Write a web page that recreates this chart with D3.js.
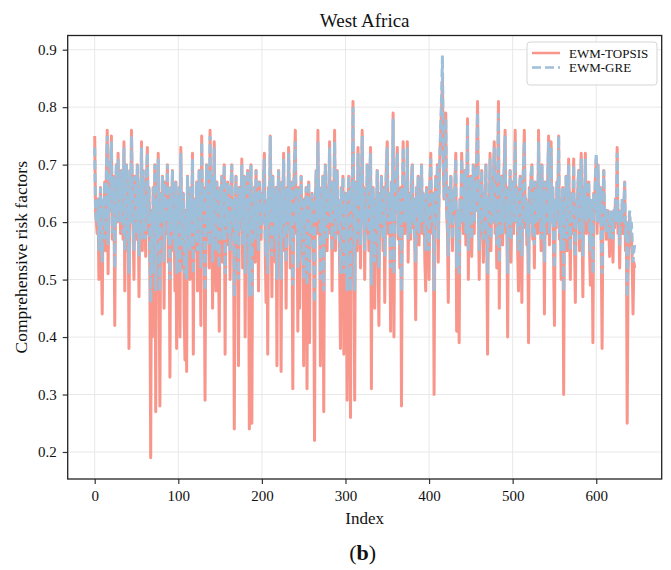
<!DOCTYPE html>
<html>
<head>
<meta charset="utf-8">
<script src="https://cdn.jsdelivr.net/npm/d3@7"></script>
<style>
  body { margin: 0; background: #fff; }
  text { font-family: "Liberation Serif", "Times New Roman", serif; fill: #111; }
</style>
</head>
<body>
<div id="chart"></div>
<script>
// series values (index 0..646)
var topsis = [
  0.75,0.62,0.60,0.58,0.64,0.50,0.61,0.66,0.55,0.44, 0.63,0.58,0.67,0.55,0.69,0.76,0.51,0.66,0.62,0.70,
  0.75,0.57,0.68,0.64,0.42,0.66,0.70,0.60,0.72,0.63, 0.67,0.58,0.69,0.62,0.57,0.74,0.48,0.66,0.70,0.55,
  0.64,0.38,0.69,0.60,0.76,0.66,0.58,0.50,0.68,0.62, 0.57,0.70,0.63,0.47,0.66,0.61,0.74,0.55,0.69,0.60,
  0.64,0.54,0.68,0.73,0.58,0.66,0.50,0.19,0.62,0.40, 0.66,0.59,0.70,0.27,0.63,0.56,0.72,0.52,0.28,0.65,
  0.60,0.68,0.63,0.45,0.67,0.58,0.62,0.70,0.53,0.64, 0.33,0.66,0.60,0.69,0.55,0.62,0.48,0.67,0.38,0.63,
  0.58,0.66,0.40,0.73,0.60,0.52,0.65,0.44,0.36,0.62, 0.34,0.68,0.57,0.63,0.50,0.66,0.59,0.72,0.37,0.64,
  0.60,0.55,0.67,0.48,0.62,0.69,0.58,0.42,0.75,0.61, 0.66,0.54,0.29,0.63,0.70,0.57,0.65,0.52,0.76,0.60,
  0.68,0.45,0.64,0.74,0.58,0.48,0.67,0.62,0.55,0.41, 0.66,0.60,0.68,0.53,0.63,0.70,0.37,0.65,0.59,0.67,
  0.56,0.62,0.50,0.66,0.70,0.58,0.64,0.24,0.61,0.68, 0.55,0.63,0.35,0.66,0.59,0.62,0.71,0.52,0.64,0.68,
  0.40,0.63,0.57,0.69,0.61,0.24,0.65,0.70,0.25,0.62, 0.58,0.66,0.53,0.69,0.60,0.64,0.48,0.67,0.62,0.57,
  0.65,0.60,0.68,0.72,0.55,0.46,0.63,0.37,0.66,0.60, 0.75,0.62,0.47,0.68,0.58,0.64,0.53,0.66,0.35,0.62,
  0.69,0.57,0.64,0.34,0.67,0.60,0.72,0.55,0.63,0.45, 0.66,0.59,0.73,0.62,0.52,0.67,0.60,0.31,0.65,0.70,
  0.76,0.58,0.63,0.41,0.66,0.45,0.60,0.68,0.56,0.62, 0.35,0.64,0.58,0.66,0.31,0.61,0.67,0.39,0.63,0.57,
  0.65,0.60,0.52,0.22,0.64,0.69,0.58,0.76,0.62,0.66, 0.35,0.63,0.57,0.68,0.27,0.64,0.70,0.59,0.55,0.66,
  0.62,0.74,0.58,0.65,0.48,0.67,0.61,0.76,0.55,0.64, 0.69,0.58,0.63,0.52,0.38,0.66,0.60,0.68,0.37,0.62,
  0.65,0.57,0.29,0.63,0.68,0.60,0.26,0.66,0.62,0.81, 0.58,0.29,0.67,0.61,0.55,0.73,0.63,0.68,0.52,0.65,
  0.76,0.60,0.66,0.50,0.62,0.58,0.70,0.64,0.55,0.67, 0.73,0.31,0.62,0.66,0.57,0.45,0.64,0.60,0.69,0.53,
  0.42,0.65,0.59,0.68,0.62,0.55,0.66,0.46,0.63,0.70, 0.74,0.58,0.65,0.61,0.41,0.67,0.60,0.79,0.40,0.64,
  0.62,0.68,0.73,0.57,0.64,0.52,0.66,0.28,0.61,0.74, 0.63,0.58,0.67,0.60,0.74,0.53,0.65,0.62,0.57,0.68,
  0.70,0.59,0.64,0.55,0.43,0.66,0.61,0.68,0.56,0.63, 0.60,0.70,0.58,0.65,0.62,0.53,0.48,0.66,0.60,0.64,
  0.50,0.67,0.72,0.61,0.58,0.65,0.30,0.63,0.68,0.60, 0.70,0.53,0.66,0.72,0.76,0.80,0.85,0.70,0.64,0.68,
  0.79,0.62,0.58,0.46,0.66,0.60,0.68,0.63,0.55,0.65, 0.61,0.67,0.72,0.41,0.62,0.58,0.39,0.64,0.60,0.72,
  0.66,0.58,0.62,0.69,0.56,0.64,0.78,0.50,0.66,0.61, 0.68,0.54,0.63,0.70,0.58,0.66,0.62,0.72,0.81,0.64,
  0.50,0.67,0.60,0.69,0.58,0.53,0.65,0.62,0.70,0.57, 0.37,0.64,0.61,0.72,0.55,0.66,0.60,0.68,0.74,0.58,
  0.64,0.52,0.67,0.81,0.45,0.63,0.60,0.68,0.56,0.65, 0.70,0.76,0.58,0.63,0.40,0.66,0.60,0.69,0.53,0.62,
  0.67,0.58,0.64,0.76,0.60,0.66,0.55,0.48,0.63,0.68, 0.61,0.46,0.65,0.70,0.76,0.59,0.64,0.56,0.62,0.39,
  0.66,0.60,0.68,0.70,0.57,0.63,0.52,0.67,0.61,0.65, 0.58,0.76,0.62,0.66,0.55,0.70,0.60,0.64,0.44,0.67,
  0.61,0.58,0.68,0.75,0.56,0.64,0.74,0.60,0.66,0.53, 0.42,0.63,0.59,0.67,0.62,0.75,0.57,0.64,0.50,0.61,
  0.66,0.30,0.62,0.58,0.68,0.55,0.64,0.71,0.60,0.50, 0.65,0.58,0.62,0.71,0.56,0.46,0.63,0.60,0.66,0.69,
  0.55,0.64,0.72,0.60,0.47,0.66,0.62,0.72,0.58,0.64, 0.61,0.67,0.55,0.49,0.63,0.60,0.39,0.65,0.62,0.68,
  0.71,0.58,0.70,0.64,0.60,0.66,0.55,0.38,0.63,0.69, 0.60,0.62,0.57,0.61,0.62,0.59,0.54,0.61,0.58,0.60,
  0.53,0.62,0.59,0.64,0.60,0.73,0.58,0.62,0.52,0.61, 0.60,0.63,0.58,0.62,0.67,0.55,0.60,0.25,0.50,0.58,
  0.61,0.56,0.58,0.53,0.44,0.53,0.52
];

var gre = [
  0.73,0.62,0.60,0.60,0.64,0.55,0.62,0.66,0.57,0.53, 0.64,0.60,0.67,0.57,0.69,0.75,0.56,0.66,0.62,0.70,
  0.74,0.58,0.68,0.64,0.52,0.66,0.70,0.60,0.71,0.64, 0.67,0.60,0.69,0.62,0.58,0.73,0.55,0.66,0.70,0.57,
  0.64,0.51,0.69,0.60,0.75,0.66,0.60,0.55,0.68,0.62, 0.58,0.70,0.64,0.54,0.66,0.62,0.73,0.57,0.69,0.60,
  0.64,0.57,0.68,0.72,0.60,0.66,0.55,0.46,0.62,0.51, 0.66,0.60,0.70,0.48,0.64,0.58,0.71,0.56,0.48,0.65,
  0.60,0.68,0.64,0.53,0.67,0.60,0.62,0.70,0.57,0.64, 0.50,0.66,0.60,0.69,0.57,0.62,0.55,0.67,0.51,0.64,
  0.60,0.66,0.51,0.72,0.60,0.56,0.65,0.53,0.51,0.62, 0.50,0.68,0.58,0.64,0.55,0.66,0.60,0.71,0.51,0.64,
  0.60,0.57,0.67,0.55,0.62,0.69,0.60,0.52,0.74,0.62, 0.66,0.57,0.48,0.64,0.70,0.58,0.65,0.56,0.75,0.60,
  0.68,0.53,0.64,0.73,0.60,0.55,0.67,0.62,0.57,0.52, 0.66,0.60,0.68,0.57,0.64,0.70,0.51,0.65,0.60,0.67,
  0.58,0.62,0.55,0.66,0.70,0.60,0.64,0.47,0.62,0.68, 0.57,0.64,0.50,0.66,0.60,0.62,0.70,0.56,0.64,0.68,
  0.51,0.64,0.58,0.69,0.62,0.47,0.65,0.70,0.47,0.62, 0.60,0.66,0.57,0.69,0.60,0.64,0.55,0.67,0.62,0.58,
  0.65,0.60,0.68,0.71,0.57,0.54,0.64,0.51,0.66,0.60, 0.75,0.62,0.54,0.68,0.60,0.64,0.57,0.66,0.50,0.62,
  0.69,0.58,0.64,0.50,0.67,0.60,0.71,0.57,0.64,0.53, 0.66,0.60,0.72,0.62,0.56,0.67,0.60,0.49,0.65,0.70,
  0.74,0.60,0.64,0.52,0.66,0.53,0.60,0.68,0.58,0.62, 0.50,0.64,0.60,0.66,0.49,0.62,0.67,0.51,0.64,0.58,
  0.65,0.60,0.56,0.46,0.64,0.69,0.60,0.74,0.62,0.66, 0.50,0.64,0.58,0.68,0.48,0.64,0.70,0.60,0.57,0.66,
  0.62,0.73,0.60,0.65,0.55,0.67,0.62,0.74,0.57,0.64, 0.69,0.60,0.64,0.56,0.51,0.66,0.60,0.68,0.51,0.62,
  0.65,0.58,0.48,0.64,0.68,0.60,0.48,0.66,0.62,0.80, 0.60,0.48,0.67,0.62,0.57,0.72,0.64,0.68,0.56,0.65,
  0.75,0.60,0.66,0.55,0.62,0.60,0.70,0.64,0.57,0.67, 0.72,0.49,0.62,0.66,0.58,0.53,0.64,0.60,0.69,0.57,
  0.52,0.65,0.60,0.68,0.62,0.57,0.66,0.54,0.64,0.70, 0.73,0.60,0.65,0.62,0.52,0.67,0.60,0.78,0.51,0.64,
  0.62,0.68,0.72,0.58,0.64,0.56,0.66,0.48,0.62,0.73, 0.64,0.60,0.67,0.60,0.73,0.57,0.65,0.62,0.58,0.68,
  0.70,0.60,0.64,0.57,0.53,0.66,0.62,0.68,0.58,0.64, 0.60,0.70,0.60,0.65,0.62,0.57,0.55,0.66,0.60,0.64,
  0.55,0.67,0.71,0.62,0.60,0.65,0.48,0.64,0.68,0.60, 0.70,0.57,0.66,0.72,0.77,0.82,0.89,0.71,0.64,0.68,
  0.78,0.62,0.60,0.54,0.66,0.60,0.68,0.64,0.57,0.65, 0.62,0.67,0.71,0.52,0.62,0.60,0.51,0.64,0.60,0.71,
  0.66,0.60,0.62,0.69,0.58,0.64,0.77,0.55,0.66,0.62, 0.68,0.57,0.64,0.70,0.60,0.66,0.62,0.71,0.79,0.64,
  0.55,0.67,0.60,0.69,0.60,0.57,0.65,0.62,0.70,0.58, 0.51,0.64,0.62,0.71,0.57,0.66,0.60,0.68,0.73,0.60,
  0.64,0.56,0.67,0.79,0.53,0.64,0.60,0.68,0.58,0.65, 0.70,0.75,0.60,0.64,0.51,0.66,0.60,0.69,0.57,0.62,
  0.67,0.60,0.64,0.74,0.60,0.66,0.57,0.55,0.64,0.68, 0.62,0.54,0.65,0.70,0.74,0.60,0.64,0.58,0.62,0.51,
  0.66,0.60,0.68,0.70,0.58,0.64,0.56,0.67,0.62,0.65, 0.60,0.74,0.62,0.66,0.57,0.70,0.60,0.64,0.53,0.67,
  0.62,0.60,0.68,0.74,0.58,0.64,0.73,0.60,0.66,0.57, 0.52,0.64,0.60,0.67,0.62,0.75,0.58,0.64,0.55,0.62,
  0.66,0.48,0.62,0.60,0.68,0.57,0.64,0.70,0.60,0.55, 0.65,0.60,0.62,0.70,0.58,0.54,0.64,0.60,0.66,0.69,
  0.57,0.64,0.71,0.60,0.54,0.66,0.62,0.71,0.60,0.64, 0.62,0.67,0.57,0.55,0.64,0.60,0.51,0.65,0.62,0.68,
  0.72,0.60,0.70,0.64,0.60,0.66,0.57,0.51,0.64,0.69, 0.60,0.62,0.58,0.62,0.62,0.60,0.57,0.62,0.60,0.60,
  0.57,0.62,0.60,0.64,0.60,0.72,0.60,0.62,0.56,0.62, 0.60,0.64,0.60,0.62,0.67,0.57,0.60,0.47,0.55,0.60,
  0.62,0.58,0.60,0.57,0.53,0.55,0.56
];

var seriesNames = ["EWM-TOPSIS", "EWM-GRE"];
var seriesColors = ["#f8968b", "#9dbfda"];
var xTicks = [0, 100, 200, 300, 400, 500, 600];
var yTicks = [0.2, 0.3, 0.4, 0.5, 0.6, 0.7, 0.8, 0.9];

var width = 671, height = 570;
var margin = { top: 35.5, right: 9.3, bottom: 91, left: 67.7 };
var innerW = width - margin.left - margin.right;
var innerH = height - margin.top - margin.bottom;

var svg = d3.select("#chart").append("svg")
  .attr("width", width)
  .attr("height", height);

var g = svg.append("g")
  .attr("transform", "translate(" + margin.left + "," + margin.top + ")");

// x domain padded like matplotlib (5% each side)
var n = topsis.length;
var x = d3.scaleLinear().domain([-(n - 1) * 0.05, (n - 1) * 1.05]).range([0, innerW]);
var y = d3.scaleLinear().domain([0.153, 0.9247]).range([innerH, 0]);

// grid
g.selectAll(".gx").data(xTicks).enter().append("line")
  .attr("x1", d => x(d)).attr("x2", d => x(d))
  .attr("y1", 0).attr("y2", innerH)
  .attr("stroke", "#e8e8e8").attr("stroke-width", 1);
g.selectAll(".gy").data(yTicks).enter().append("line")
  .attr("y1", d => y(d)).attr("y2", d => y(d))
  .attr("x1", 0).attr("x2", innerW)
  .attr("stroke", "#e8e8e8").attr("stroke-width", 1);

// lines
var line = d3.line().x((d, i) => x(i)).y(d => y(d));

g.append("path").datum(topsis)
  .attr("d", line)
  .attr("fill", "none")
  .attr("stroke", seriesColors[0])
  .attr("stroke-width", 3)
  .attr("stroke-linejoin", "round");

g.append("path").datum(gre)
  .attr("d", line)
  .attr("fill", "none")
  .attr("stroke", seriesColors[1])
  .attr("stroke-width", 3)
  .attr("stroke-dasharray", "9,4");

// axes
var xAxis = g.append("g")
  .attr("transform", "translate(0," + innerH + ")")
  .call(d3.axisBottom(x).tickValues(xTicks).tickSize(5).tickPadding(6));
var yAxis = g.append("g")
  .call(d3.axisLeft(y).tickValues(yTicks).tickFormat(d3.format(".1f")).tickSize(5).tickPadding(6));

[xAxis, yAxis].forEach(function (a) {
  a.select(".domain").remove();
  a.selectAll("line").attr("stroke", "#333").attr("stroke-width", 1.2);
  a.selectAll("text")
    .style("font-family", '"Liberation Serif", serif')
    .style("font-size", "15px")
    .attr("fill", "#111");
});

// frame
g.append("rect")
  .attr("width", innerW).attr("height", innerH)
  .attr("fill", "none").attr("stroke", "#222").attr("stroke-width", 1.3);

// titles
svg.append("text")
  .attr("x", margin.left + innerW / 2).attr("y", 27)
  .attr("text-anchor", "middle")
  .style("font-size", "19px")
  .text("West Africa");

svg.append("text")
  .attr("x", margin.left + innerW / 2).attr("y", 524)
  .attr("text-anchor", "middle")
  .style("font-size", "17px")
  .text("Index");

svg.append("text")
  .attr("transform", "translate(27," + (margin.top + innerH / 2) + ") rotate(-90)")
  .attr("text-anchor", "middle")
  .style("font-size", "17.5px")
  .text("Comprehensive risk factors");

var cap = svg.append("text")
  .attr("x", margin.left + innerW / 2 - 2).attr("y", 560)
  .attr("text-anchor", "middle")
  .style("font-size", "22px");
cap.append("tspan").text("(");
cap.append("tspan").style("font-weight", "bold").text("b");
cap.append("tspan").text(")");

// legend
var legend = svg.append("g").attr("transform", "translate(527,42)");
legend.append("rect")
  .attr("width", 130).attr("height", 43)
  .attr("rx", 3)
  .attr("fill", "#fff").attr("fill-opacity", 0.85)
  .attr("stroke", "#d5d5d5").attr("stroke-width", 1);

seriesNames.forEach(function (name, i) {
  var ly = 11 + i * 14.5;
  legend.append("line")
    .attr("x1", 5).attr("x2", 33).attr("y1", ly).attr("y2", ly)
    .attr("stroke", seriesColors[i]).attr("stroke-width", 2.5)
    .attr("stroke-dasharray", i === 1 ? "9,4" : null);
  legend.append("text")
    .attr("x", 42).attr("y", ly + 4.5)
    .style("font-size", "13px")
    .text(name);
});
</script>
</body>
</html>
